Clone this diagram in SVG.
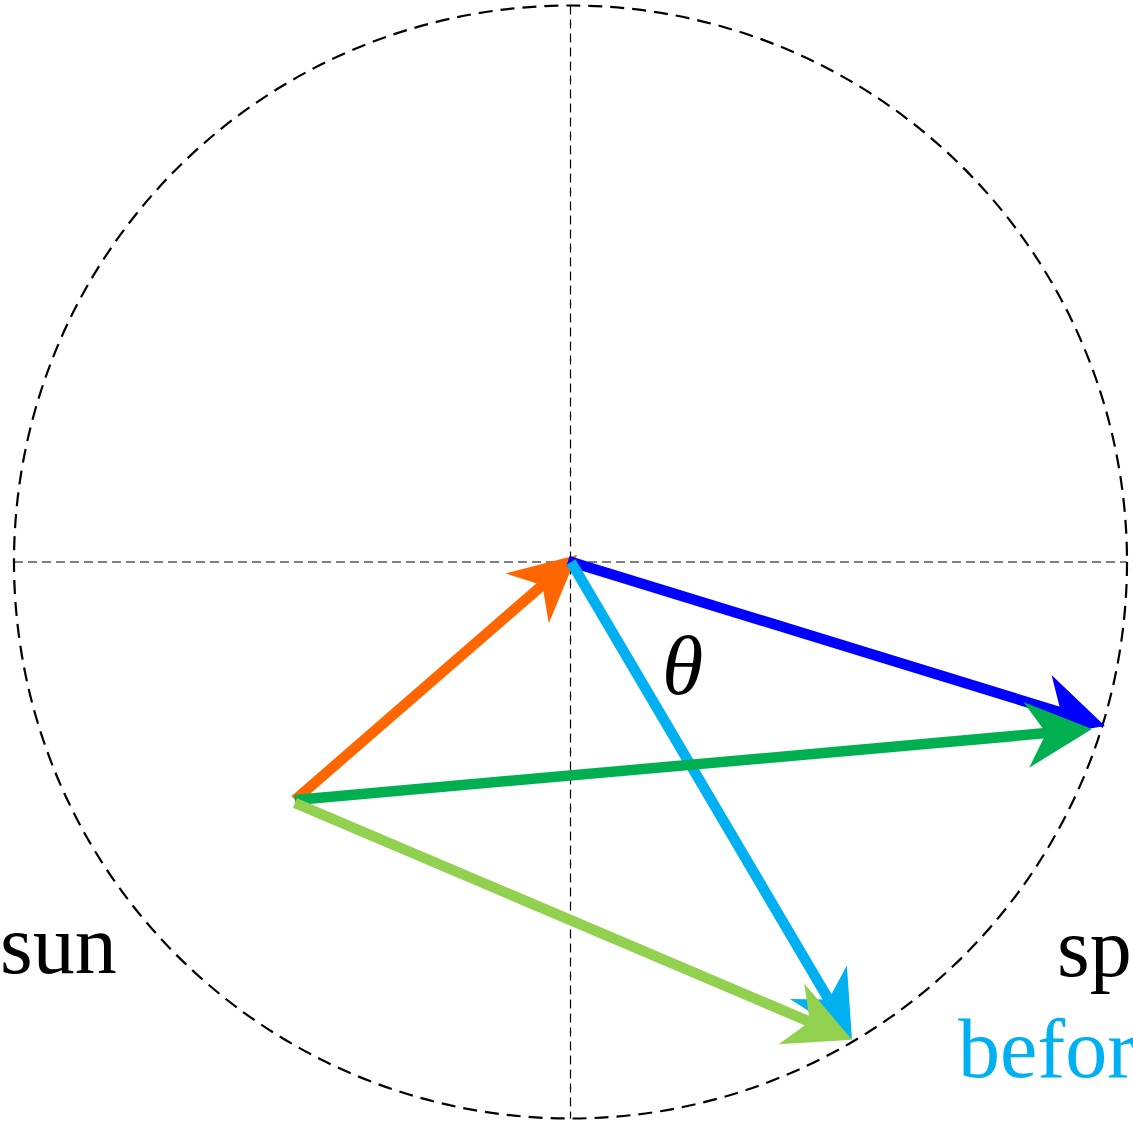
<svg xmlns="http://www.w3.org/2000/svg" width="1133" height="1124" viewBox="0 0 1133 1124">
<style>
.circ{fill:none;stroke:#000;stroke-width:2.2;stroke-dasharray:14 8}
.axis{fill:none;stroke:#000;stroke-width:1.2;stroke-dasharray:9 5}
.shaft{fill:none;stroke-width:10.5;stroke-linecap:butt}
.lbl{font-family:"Liberation Serif","Times New Roman",serif;font-size:84px}
</style>
<defs>
<marker id="mOrange" viewBox="0 0 66 66" refX="20" refY="33" markerWidth="66" markerHeight="66" markerUnits="userSpaceOnUse" orient="auto"><path d="M66,33 L0,0 L20,33 L0,66 Z" fill="#FF6600"/></marker>
<marker id="mBlue" viewBox="0 0 66 66" refX="20" refY="33" markerWidth="66" markerHeight="66" markerUnits="userSpaceOnUse" orient="auto"><path d="M66,33 L0,0 L20,33 L0,66 Z" fill="#0000FF"/></marker>
<marker id="mGreen" viewBox="0 0 66 66" refX="20" refY="33" markerWidth="66" markerHeight="66" markerUnits="userSpaceOnUse" orient="auto"><path d="M66,33 L0,0 L20,33 L0,66 Z" fill="#00B050"/></marker>
<marker id="mCyan" viewBox="0 0 66 66" refX="20" refY="33" markerWidth="66" markerHeight="66" markerUnits="userSpaceOnUse" orient="auto"><path d="M66,33 L0,0 L20,33 L0,66 Z" fill="#00B0F0"/></marker>
<marker id="mLight" viewBox="0 0 66 66" refX="20" refY="33" markerWidth="66" markerHeight="66" markerUnits="userSpaceOnUse" orient="auto"><path d="M66,33 L0,0 L20,33 L0,66 Z" fill="#92D050"/></marker>
</defs>
<g id="frame">
<circle class="circ" cx="570.5" cy="562" r="556.5"/>
<line class="axis" x1="14" y1="562" x2="1127" y2="562"/>
<line class="axis" x1="570.5" y1="5.5" x2="570.5" y2="1118.5"/>
</g>
<g id="connectors">
<line class="shaft" stroke="#FF6600" x1="295" y1="800" x2="542.3" y2="585.2" marker-end="url(#mOrange)"/>
<line class="shaft" stroke="#0000FF" x1="568" y1="561" x2="1061" y2="712.5" marker-end="url(#mBlue)"/>
<line class="shaft" stroke="#00B0F0" x1="571" y1="562" x2="828.6" y2="999.4" marker-end="url(#mCyan)"/>
<line class="shaft" stroke="#00B050" x1="295" y1="800" x2="1046.2" y2="733.1" marker-end="url(#mGreen)"/>
<line class="shaft" stroke="#92D050" x1="295" y1="803" x2="809.8" y2="1021.8" marker-end="url(#mLight)"/>
</g>
<g id="labels">
<text id="theta" class="lbl" x="662" y="694" font-style="italic">θ</text>
<text id="sun" class="lbl" x="0" y="973">sun</text>
<text id="sp" class="lbl" x="1057" y="976">sp</text>
<text id="before" class="lbl" x="958" y="1077" fill="#00B0F0">befor</text>
</g>
</svg>
